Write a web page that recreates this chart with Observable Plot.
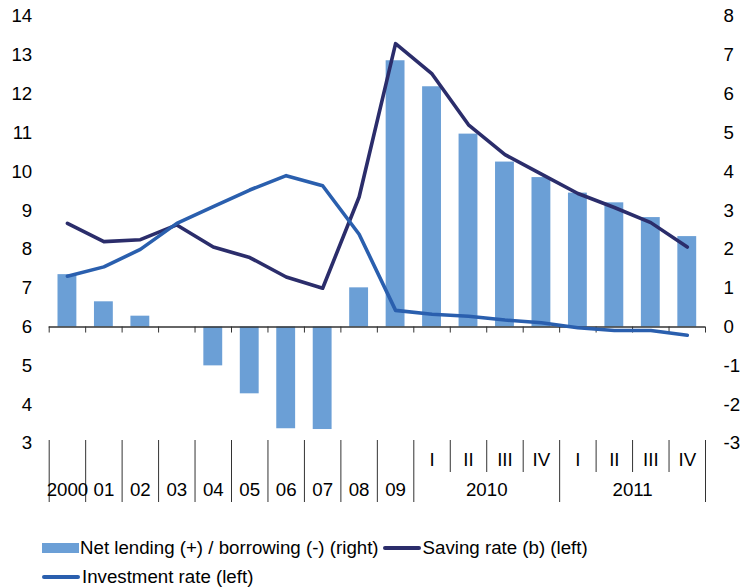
<!DOCTYPE html>
<html>
<head>
<meta charset="utf-8">
<script src="https://cdn.jsdelivr.net/npm/d3@7"></script>
<script src="https://cdn.jsdelivr.net/npm/@observablehq/plot@0.6"></script>
<style>
  html, body { margin: 0; padding: 0; background: #fff; }
  #chart svg { display: block; }
  #legend {
    display: flex; flex-wrap: wrap; align-items: center;
    padding-left: 42px; margin-top: 23px; width: 700px;
    font-family: "Liberation Sans", Arial, sans-serif; font-size: 18.7px;
    line-height: 29px; color: #000;
  }
  .item { display: flex; align-items: center; white-space: nowrap; }
  .swatch-rect { width: 37px; height: 10px; margin-right: 1px; }
  .swatch-line { width: 38px; height: 4px; margin-right: 2px; border-radius: 2px; }
</style>
</head>
<body>
<div id="chart"></div>
<div id="legend"></div>
<script>
// Periods (lower label row: year; upper row: quarter where applicable)
const categories = ["2000","01","02","03","04","05","06","07","08","09","I","II","III","IV","I","II","III","IV"];
const periodYear = ["2000","01","02","03","04","05","06","07","08","09","2010","2010","2010","2010","2011","2011","2011","2011"];

// Net lending (+) / borrowing (-), right axis
const netLending = [1.35, 0.65, 0.28, 0, -1.0, -1.72, -2.62, -2.64, 1.01, 6.86, 6.19, 4.97, 4.25, 3.85, 3.45, 3.2, 2.82, 2.33];
// Saving rate (b), left axis
const savingRate = [8.67, 8.2, 8.25, 8.63, 8.06, 7.79, 7.29, 7.0, 9.35, 13.3, 12.52, 11.21, 10.44, 9.94, 9.44, 9.08, 8.69, 8.06];
// Investment rate, left axis
const investmentRate = [7.31, 7.55, 8.0, 8.67, 9.1, 9.53, 9.9, 9.64, 8.39, 6.43, 6.33, 6.28, 6.18, 6.11, 5.98, 5.91, 5.91, 5.79];

const leftTicks = [3, 4, 5, 6, 7, 8, 9, 10, 11, 12, 13, 14];
const rightTicks = [-3, -2, -1, 0, 1, 2, 3, 4, 5, 6, 7, 8];
const rightZeroOnLeft = 6; // right-axis 0 sits at left-axis 6

const colors = { net: "#6b9fd6", saving: "#2b2d6b", invest: "#2a5fae" };
const legendLabels = ["Net lending (+) / borrowing (-) (right)", "Saving rate (b) (left)", "Investment rate (left)"];

const data = categories.map((c, i) => ({
  i, c, year: periodYear[i],
  net: netLending[i], saving: savingRate[i], invest: investmentRate[i]
}));

// Year groups (labels centred across their periods)
const years = d3.groups(data, d => d.year).map(([year, rows]) => ({
  year, center: d3.mean(rows, r => r.i + 0.5)
}));
const quarters = data.filter(d => d.c !== d.year);
// Boundaries: long where the year changes, short between quarters
const boundaries = d3.range(categories.length + 1).map(b => ({
  b, long: b === 0 || b === categories.length || periodYear[b - 1] !== periodYear[b]
}));

const chart = Plot.plot({
  width: 742,
  height: 510,
  marginTop: 16,
  marginBottom: 67,
  marginLeft: 48.7,
  marginRight: 37,
  style: { fontFamily: "Liberation Sans, Arial, sans-serif", fontSize: "18.7px", color: "#000", background: "#fff" },
  x: { domain: [0, categories.length], axis: null },
  y: { domain: [3, 14], axis: null },
  marks: [
    Plot.rectY(data, {
      x1: d => d.i, x2: d => d.i + 1,
      y1: rightZeroOnLeft, y2: d => rightZeroOnLeft + d.net,
      insetLeft: 8.8, insetRight: 8.8, fill: colors.net
    }),
    Plot.ruleY([rightZeroOnLeft], { stroke: "#333", strokeWidth: 1.5 }),
    Plot.ruleX(boundaries, { x: "b", y1: rightZeroOnLeft, y2: rightZeroOnLeft, insetBottom: -6, stroke: "#333", strokeWidth: 1 }),
    Plot.ruleX(boundaries.filter(d => d.long), { x: "b", y1: 3, y2: 3, insetTop: -3, insetBottom: -59, stroke: "#333", strokeWidth: 1 }),
    Plot.ruleX(boundaries.filter(d => !d.long), { x: "b", y1: 3, y2: 3, insetTop: -3, insetBottom: -29, stroke: "#333", strokeWidth: 1 }),
    Plot.line(data, { x: d => d.i + 0.5, y: "saving", stroke: colors.saving, strokeWidth: 3.6 }),
    Plot.line(data, { x: d => d.i + 0.5, y: "invest", stroke: colors.invest, strokeWidth: 3.6 }),
    Plot.axisY({ anchor: "left", ticks: leftTicks, tickSize: 0, tickPadding: 17, tickFormat: d => String(d) }),
    Plot.axisY({ anchor: "right", ticks: leftTicks, tickSize: 0, tickPadding: 18, tickFormat: d => String(rightTicks[leftTicks.indexOf(d)]) }),
    Plot.text(quarters, { x: d => d.i + 0.5, text: "c", frameAnchor: "bottom", dy: 22, fill: "#000" }),
    Plot.text(years, { x: "center", text: "year", frameAnchor: "bottom", dy: 52, fill: "#000" })
  ]
});
document.getElementById("chart").appendChild(chart);

// Legend
const legend = document.getElementById("legend");
const items = [
  { label: legendLabels[0], color: colors.net, kind: "rect", gap: 4 },
  { label: legendLabels[1], color: colors.saving, kind: "line", gap: 0 },
  { label: legendLabels[2], color: colors.invest, kind: "line", gap: 0 }
];
for (const it of items) {
  const el = document.createElement("div");
  el.className = "item";
  el.style.marginRight = it.gap + "px";
  const sw = document.createElement("span");
  sw.className = it.kind === "rect" ? "swatch-rect" : "swatch-line";
  sw.style.background = it.color;
  const tx = document.createElement("span");
  tx.textContent = it.label;
  el.appendChild(sw); el.appendChild(tx);
  legend.appendChild(el);
}
</script>
</body>
</html>
